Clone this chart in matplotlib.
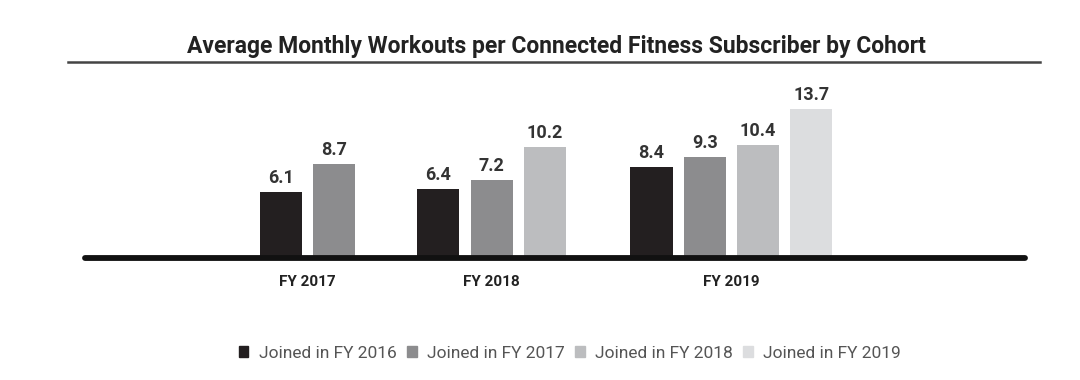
import numpy as np
import matplotlib.pyplot as plt
from matplotlib.patches import Patch
from matplotlib.lines import Line2D

plt.rcParams['font.family'] = ['Roboto', 'DejaVu Sans']

years = ['FY 2017', 'FY 2018', 'FY 2019']
cohorts = ['Joined in FY 2016', 'Joined in FY 2017', 'Joined in FY 2018', 'Joined in FY 2019']
# values per year, one entry per cohort that existed in that year
values = [
    [6.1, 8.7],
    [6.4, 7.2, 10.2],
    [8.4, 9.3, 10.4, 13.7],
]
colors = ['#231f20', '#8c8c8e', '#bcbdbf', '#dcdddf']

fig = plt.figure(figsize=(10.8, 3.8), dpi=100)
ax = fig.add_axes([85 / 1080, 122 / 380, 940 / 1080, 178 / 380])

# lay bars out slot by slot, leaving one empty slot between years
slot = 0
centers = []
for vals in values:
    xs = np.arange(slot, slot + len(vals)) - 0.05 * (slot > 0)
    for i, (x, v) in enumerate(zip(xs, vals)):
        ax.bar(x, v, width=0.79, color=colors[i], zorder=2)
        ax.text(x, v + 0.45, f'{v:.1f}', ha='center', va='bottom',
                fontsize=13, fontweight='bold', color='#333333')
    centers.append(xs.mean())
    slot += len(vals) + 1

ax.axhline(0, color='#111111', lw=4.2, zorder=3, solid_capstyle='round', clip_on=False)
ax.set_xlim(-3.68, 13.96)
ax.set_ylim(0, 16.4)
ax.set_xticks(centers)
ax.set_xticklabels(years, fontsize=11, fontweight='bold', color='#222222')
ax.tick_params(axis='x', length=0, pad=12)
ax.set_yticks([])
for s in ax.spines.values():
    s.set_visible(False)

fig.text(556 / 1080, 1 - 46 / 380, 'Average Monthly Workouts per Connected Fitness Subscriber by Cohort',
         ha='center', va='center', fontsize=16.5, fontweight='bold', color='#222222')
fig.add_artist(Line2D([68 / 1080, 1040 / 1080], [1 - 62 / 380] * 2,
                      transform=fig.transFigure, color='#444444', lw=1.8))

handles = [Patch(color=c, label=l) for c, l in zip(colors, cohorts)]
fig.legend(handles=handles, loc='center', bbox_to_anchor=(570 / 1080, 1 - 353 / 380),
           ncol=4, frameon=False, fontsize=12.5, handlelength=0.55, handleheight=0.55,
           handletextpad=0.6, columnspacing=0.6, labelcolor='#555555')

fig.savefig('out.png', dpi=100, facecolor='white')
